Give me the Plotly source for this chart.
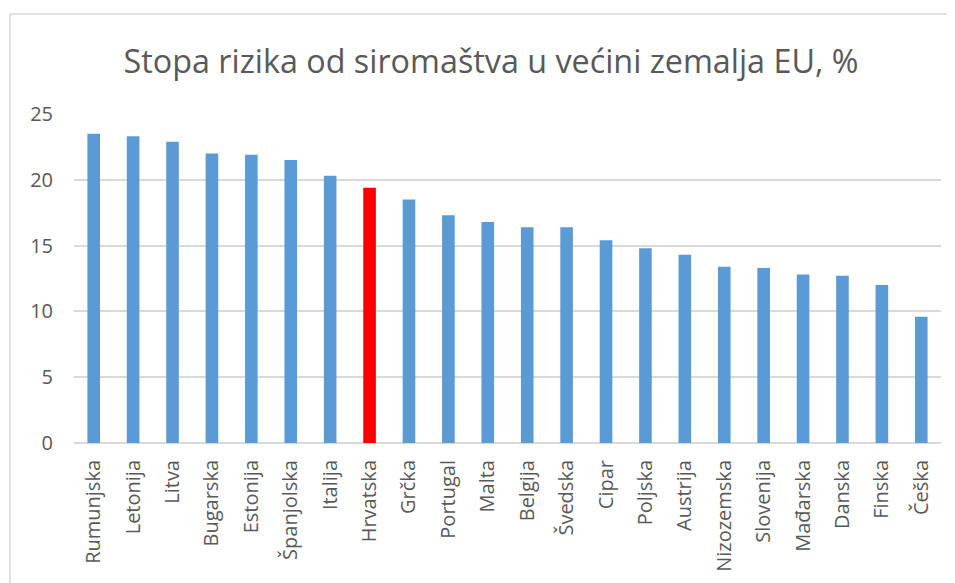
import plotly.graph_objects as go

countries = ["Rumunjska", "Letonija", "Litva", "Bugarska", "Estonija", "Španjolska",
             "Italija", "Hrvatska", "Grčka", "Portugal", "Malta", "Belgija", "Švedska",
             "Cipar", "Poljska", "Austrija", "Nizozemska", "Slovenija", "Mađarska",
             "Danska", "Finska", "Češka"]
values = [23.5, 23.3, 22.9, 22.0, 21.9, 21.5, 20.3, 19.4, 18.5, 17.3, 16.8, 16.4, 16.4,
          15.4, 14.8, 14.3, 13.4, 13.3, 12.8, 12.7, 12.0, 9.6]
highlight = "Hrvatska"
y_ticks = [0, 5, 10, 15, 20, 25]

colors = ["#FF0000" if c == highlight else "#5B9BD5" for c in countries]

fig = go.Figure(go.Bar(
    x=countries, y=values, marker=dict(color=colors, line=dict(width=0)),
))

FONT = "Open Sans"
GREY = "#595959"
# page body has an 8px margin, so the figure is sized to fit the remaining viewport
W, H = 947, 575
L, R, T, B = 66, 14, 106, 140
PW, PH = W - L - R, H - T - B

bx0 = (2 - L) / PW
bx1 = (W - L) / PW
by_top = (H - B - 6) / PH
by_bot = (H - B - H) / PH
border = dict(color="#d9d9d9", width=1.5)

fig.update_layout(
    width=W, height=H,
    margin=dict(l=L, r=R, t=T, b=B, autoexpand=False),
    paper_bgcolor="white", plot_bgcolor="white",
    bargap=0.68,
    showlegend=False,
    title=dict(text="Stopa rizika od siromaštva u većini zemalja EU, %",
               x=483 / W, xref="container", xanchor="center",
               y=1 - 54 / H, yref="container", yanchor="middle",
               font=dict(family=FONT, size=32.3, color=GREY)),
    font=dict(family=FONT, color=GREY),
    shapes=[
        dict(type="line", xref="paper", yref="paper", x0=bx0, x1=bx1, y0=by_top, y1=by_top,
             line=border, layer="below"),
        dict(type="line", xref="paper", yref="paper", x0=bx0, x1=bx0, y0=by_top, y1=by_bot,
             line=border, layer="below"),
    ],
)
fig.update_xaxes(tickangle=-90, tickfont=dict(family=FONT, size=20, color=GREY),
                 showgrid=False, showline=False, ticks="", ticklabelstandoff=12,
                 automargin=False)
fig.update_yaxes(range=[0, 25], tickvals=y_ticks, tickfont=dict(family=FONT, size=20, color=GREY),
                 showgrid=True, gridcolor="#d9d9d9", gridwidth=1.5,
                 zeroline=True, zerolinecolor="#d9d9d9", zerolinewidth=1.5,
                 showline=False, ticks="", ticklabelstandoff=20, automargin=False)

fig.write_html("out.html")
